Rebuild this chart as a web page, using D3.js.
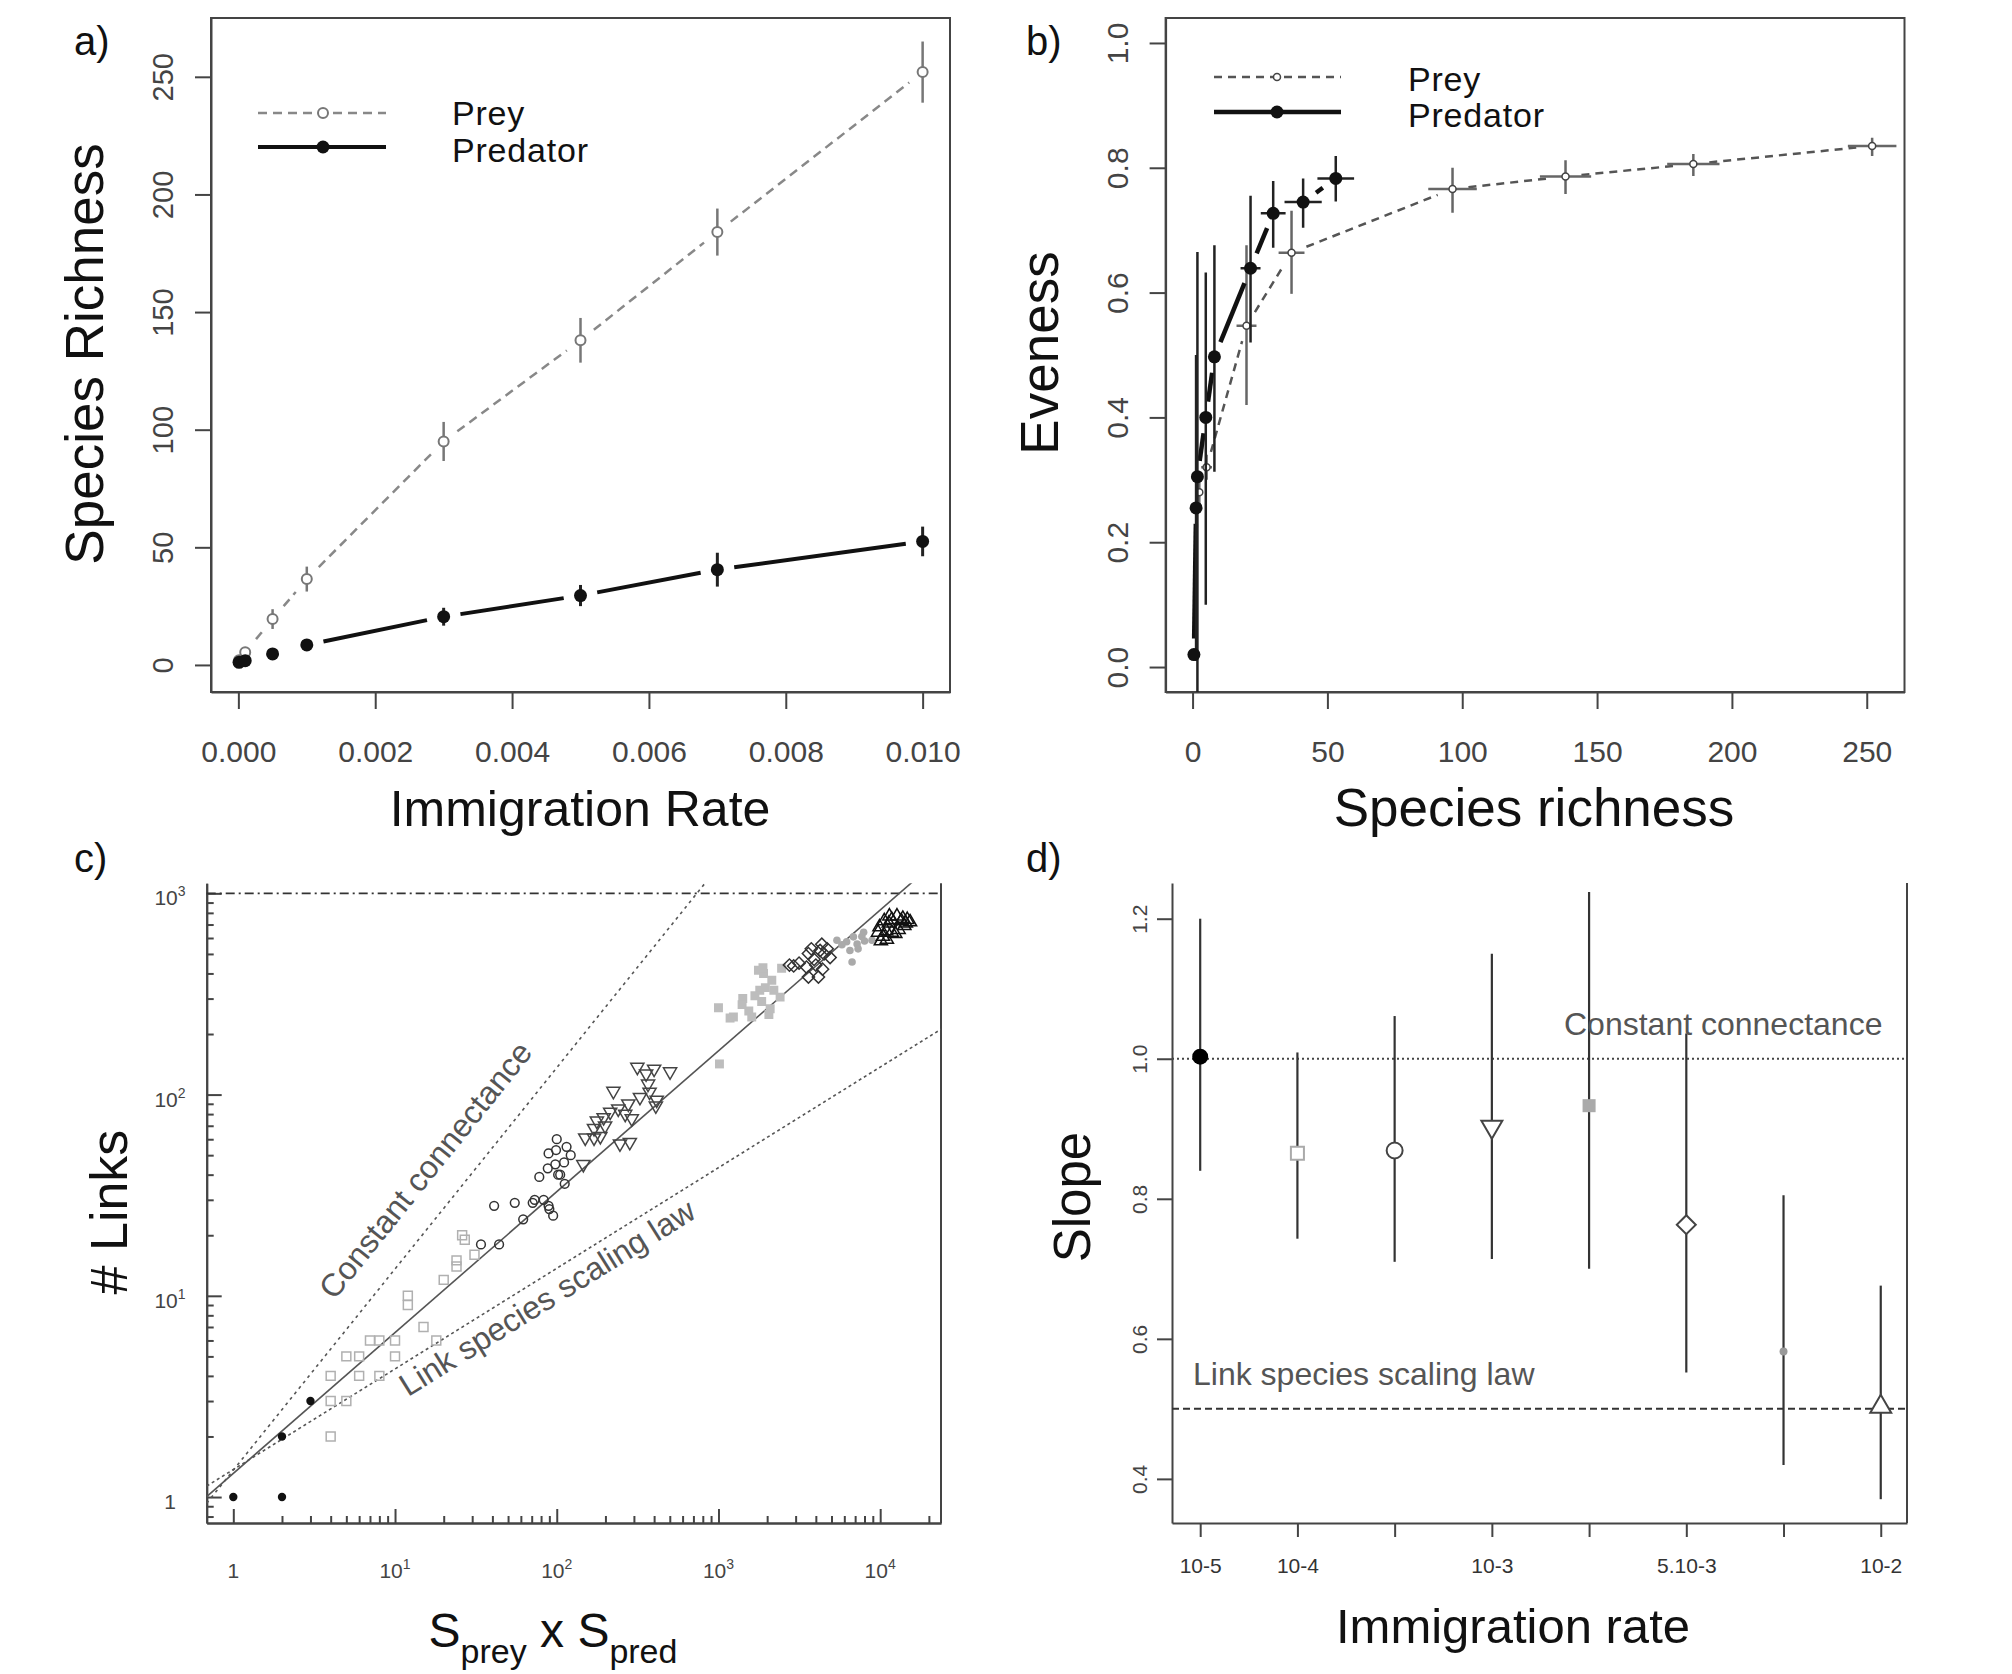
<!DOCTYPE html>
<html>
<head>
<meta charset="utf-8">
<script src="https://cdn.jsdelivr.net/npm/d3@7"></script>
<style>
  body { margin: 0; background: #fff; }
  svg text { font-family: "Liberation Sans", Arial, Helvetica, sans-serif; }
</style>
</head>
<body>
<svg id="fig" width="2012" height="1674"></svg>
<script>
// ---- a) species richness vs immigration rate ----
const immigrationRates = [0.00001, 0.0001, 0.0005, 0.001, 0.003, 0.005, 0.007, 0.01];
const preyRichness     = [2, 5.4, 19.5, 36.5, 95, 138, 184, 252];
const preyRichnessErr  = [1, 2, 4.2, 5.3, 8.3, 9.5, 10, 13];
const predRichness     = [1.1, 1.8, 4.7, 8.5, 20.5, 29.5, 40.5, 52.5];
const predRichnessErr  = [0.5, 0.8, 1, 1.5, 3.8, 4.5, 7.2, 6.3];
const rateTicksA = [0, 0.002, 0.004, 0.006, 0.008, 0.01];
const richTicksA = [0, 50, 100, 150, 200, 250];

// ---- b) evenness vs species richness ----
const preyS      = [2.5, 5.2, 20, 36.7, 96.4, 138.3, 185.7, 252];
const preySErr   = [1, 2, 3.7, 4.8, 9, 9.5, 9.7, 9];
const preyE      = [0.28, 0.32, 0.547, 0.664, 0.766, 0.786, 0.806, 0.835];
const preyELow   = [0.26, 0.30, 0.42, 0.598, 0.728, 0.758, 0.787, 0.819];
const preyEHigh  = [0.30, 0.34, 0.676, 0.731, 0.80, 0.812, 0.822, 0.848];
const predS      = [0.5, 1.3, 1.8, 4.9, 8.1, 21.5, 29.9, 41, 53.1];
const predSErr   = [0, 0.5, 1, 1.5, 2, 3.7, 4.6, 6.9, 6.8];
const predE      = [0.02, 0.255, 0.305, 0.40, 0.497, 0.639, 0.727, 0.745, 0.783];
const predELow   = [0.02, 0.01, -0.05, 0.10, 0.313, 0.52, 0.672, 0.704, 0.746];
const predEHigh  = [0.02, 0.50, 0.665, 0.632, 0.676, 0.755, 0.779, 0.783, 0.819];
const richTicksB = [0, 50, 100, 150, 200, 250];
const evenTicksB = [0, 0.2, 0.4, 0.6, 0.8, 1.0];

// ---- c) links vs Sprey x Spred, one array per immigration rate ----
const links1e5 = [[1,1],[2,1],[2,2],[3,3]];
const links1e4 = [[4,2],[4,3],[5,3],[4,4],[6,4],[8,4],[5,5],[6,5],[10,5],[7,6],[8,6],[10,6],[15,7],[18,6],
                  [12,9],[12,10],[20,12],[24,14],[24,15],[31,16],[26,20],[27,19]];
const links5e4 = [[34,18],[44,18],[41,28],[55,29],[62,24],[71,29],[73,30],[83,30],[89,28],[90,27],[95,25],
                  [78,39],[88,43],[89,51],[99,53],[100,60],[98,45],[102,40],[105,40],[112,36],[115,55],[122,50],[111,46]];
const links1e3 = [[315,137],[400,134],[502,130],[357,127],[367,113],[375,103],[224,104],[415,94],[327,97],
                  [277,90],[240,85],[214,82],[291,76],[410,88],[177,74],[199,70],[170,68],[150,61],[246,57],
                  [283,58],[146,45],[170,61],[195,77],[265,80],[186,62]];
const links3e3 = [[1014,142],[1000,270],[1237,243],[1180,240],[1413,300],[1606,243],[1540,260],[1767,415],
                  [1900,400],[1800,330],[1850,290],[1680,310],[2137,370],[2405,305],[2088,267],[2457,424],
                  [2200,330],[1950,340],[1400,280],[2050,250],[1884,427]];
const links5e3 = [[2746,440],[3600,502],[4355,559],[3900,470],[3500,430],[4000,440],[4500,500],[4900,480],
                  [3600,384],[4150,384],[4250,520],[4700,530],[3750,530],[3150,450],[4400,420],[2917,436]];
const links7e3 = [[5400,585],[6830,608],[6500,520],[7200,560],[7700,610],[8000,580],[6200,575],[6700,456],
                  [7300,530],[7900,640],[8900,585],[5800,555]];
const links1e2 = [[9900,680],[10600,730],[11300,710],[11800,740],[12700,770],[13500,730],[14400,710],[15300,720],
                  [10400,610],[11000,590],[10100,580],[11800,640],[13000,660],[14100,690],[14700,740],[11400,770],
                  [12400,630],[10900,650],[9700,640],[13800,750]];
const fitLaws = { constant: [1.36, 1], fitted: [1.31, 0.70], linkSpecies: [1.37, 0.5] };
const maxLinks = 1000;

// ---- d) slope per immigration rate ----
const slopeLabels = ["10-5", "10-4", "", "10-3", "", "5.10-3", "", "10-2"];
const slopeValues = [1.003, 0.865, 0.869, 0.903, 0.933, 0.763, 0.582, 0.503];
const slopeLow    = [0.84, 0.743, 0.71, 0.714, 0.70, 0.552, 0.42, 0.371];
const slopeHigh   = [1.2, 1.009, 1.061, 1.15, 1.238, 1.036, 0.805, 0.676];
const slopeTicks  = [0.4, 0.6, 0.8, 1.0, 1.2];

const svg = d3.select("#fig");
const AX = "#444";

function styleAxis(g, size) {
  g.attr("font-family", null).attr("font-size", null);
  g.select(".domain").attr("stroke", AX).attr("stroke-width", 2);
  g.selectAll(".tick line").attr("stroke", AX).attr("stroke-width", 2);
  g.selectAll(".tick text").attr("fill", AX).attr("font-size", size);
}

// R type="b": line segments that stop short of the points
function gapped(pts, gap) {
  const segs = [];
  for (let i = 0; i < pts.length - 1; i++) {
    const [x1, y1] = pts[i], [x2, y2] = pts[i + 1];
    const len = Math.hypot(x2 - x1, y2 - y1);
    if (len <= 2 * gap + 2) continue;
    const ux = (x2 - x1) / len, uy = (y2 - y1) / len;
    segs.push([x1 + ux * gap, y1 + uy * gap, x2 - ux * gap, y2 - uy * gap]);
  }
  return segs;
}

function label(txt, x, y, size, opts = {}) {
  const t = svg.append("text").attr("x", x).attr("y", y).attr("font-size", size)
    .attr("fill", opts.fill || "#111").attr("text-anchor", opts.anchor || "start").text(txt);
  if (opts.rotate) t.attr("transform", `rotate(${opts.rotate},${x},${y})`);
  return t;
}

// =================== a) ===================
const xA = d3.scaleLinear().domain([-0.0004, 0.0104]).range([211, 950]);
const yA = d3.scaleLinear().domain([-11.5, 275]).range([692, 18]);
const ga = svg.append("g");

ga.append("g").attr("transform", `translate(0,${yA.range()[0]})`)
  .call(d3.axisBottom(xA).tickValues(rateTicksA).tickFormat(d3.format(".3f")).tickSize(17).tickSizeOuter(0))
  .call(styleAxis, 30)
  .call(g => g.selectAll(".tick text").attr("y", 59).attr("dy", "0.35em"));

ga.append("g").attr("transform", `translate(${xA.range()[0]},0)`)
  .call(d3.axisLeft(yA).tickValues(richTicksA).tickSize(16).tickSizeOuter(0))
  .call(styleAxis, 29)
  .call(g => g.selectAll(".tick text").attr("x", 0).attr("dy", null).attr("y", -38)
    .attr("transform", "rotate(-90)").attr("text-anchor", "middle"));

ga.append("rect").attr("x", xA.range()[0]).attr("y", yA.range()[1])
  .attr("width", xA.range()[1] - xA.range()[0]).attr("height", yA.range()[0] - yA.range()[1])
  .attr("fill", "none").attr("stroke", AX).attr("stroke-width", 2);

const rowsA = immigrationRates.map((r, i) => ({
  r, prey: preyRichness[i], preyErr: preyRichnessErr[i], pred: predRichness[i], predErr: predRichnessErr[i]
}));

// prey
ga.selectAll(".preyseg").data(gapped(rowsA.map(d => [xA(d.r), yA(d.prey)]), 17)).join("line")
  .attr("x1", d => d[0]).attr("y1", d => d[1]).attr("x2", d => d[2]).attr("y2", d => d[3])
  .attr("stroke", "#888").attr("stroke-width", 2.5).attr("stroke-dasharray", "9,6");
ga.selectAll(".preyerr").data(rowsA).join("line")
  .attr("x1", d => xA(d.r)).attr("x2", d => xA(d.r))
  .attr("y1", d => yA(d.prey - d.preyErr)).attr("y2", d => yA(d.prey + d.preyErr))
  .attr("stroke", "#777").attr("stroke-width", 2.5);
ga.selectAll(".preypt").data(rowsA).join("circle")
  .attr("cx", d => xA(d.r)).attr("cy", d => yA(d.prey)).attr("r", 5)
  .attr("fill", "#fff").attr("stroke", "#777").attr("stroke-width", 2);

// predator
ga.selectAll(".predseg").data(gapped(rowsA.map(d => [xA(d.r), yA(d.pred)]), 17)).join("line")
  .attr("x1", d => d[0]).attr("y1", d => d[1]).attr("x2", d => d[2]).attr("y2", d => d[3])
  .attr("stroke", "#111").attr("stroke-width", 4);
ga.selectAll(".prederr").data(rowsA).join("line")
  .attr("x1", d => xA(d.r)).attr("x2", d => xA(d.r))
  .attr("y1", d => yA(d.pred - d.predErr)).attr("y2", d => yA(d.pred + d.predErr))
  .attr("stroke", "#222").attr("stroke-width", 3);
ga.selectAll(".predpt").data(rowsA).join("circle")
  .attr("cx", d => xA(d.r)).attr("cy", d => yA(d.pred)).attr("r", 6.5).attr("fill", "#111");

// legend a
ga.append("line").attr("x1", 258).attr("x2", 386).attr("y1", 113).attr("y2", 113)
  .attr("stroke", "#888").attr("stroke-width", 2.5).attr("stroke-dasharray", "9,6");
ga.append("circle").attr("cx", 323).attr("cy", 113).attr("r", 5).attr("fill", "#fff").attr("stroke", "#777").attr("stroke-width", 2);
ga.append("line").attr("x1", 258).attr("x2", 386).attr("y1", 147).attr("y2", 147).attr("stroke", "#111").attr("stroke-width", 4);
ga.append("circle").attr("cx", 323).attr("cy", 147).attr("r", 6.5).attr("fill", "#111");
label("Prey", 452, 125, 34).attr("letter-spacing", 0.8);
label("Predator", 452, 162, 34).attr("letter-spacing", 0.8);

label("a)", 74, 55, 40);
label("Immigration Rate", 580, 826, 50, { anchor: "middle" });
label("Species Richness", 103, 354, 53, { anchor: "middle", rotate: -90 });

// =================== b) ===================
const xB = d3.scaleLinear().domain([-10, 264]).range([1165.6, 1904.5]);
const yB = d3.scaleLinear().domain([-0.04, 1.04]).range([692, 18]);
const gb = svg.append("g");

gb.append("g").attr("transform", `translate(0,${yB.range()[0]})`)
  .call(d3.axisBottom(xB).tickValues(richTicksB).tickSize(17).tickSizeOuter(0))
  .call(styleAxis, 30)
  .call(g => g.selectAll(".tick text").attr("y", 59).attr("dy", "0.35em"));

gb.append("g").attr("transform", `translate(${xB.range()[0]},0)`)
  .call(d3.axisLeft(yB).tickValues(evenTicksB).tickFormat(d3.format(".1f")).tickSize(16).tickSizeOuter(0))
  .call(styleAxis, 30)
  .call(g => g.selectAll(".tick text").attr("x", 0).attr("dy", null).attr("y", -38)
    .attr("transform", "rotate(-90)").attr("text-anchor", "middle"));

gb.append("rect").attr("x", xB.range()[0]).attr("y", yB.range()[1])
  .attr("width", xB.range()[1] - xB.range()[0]).attr("height", yB.range()[0] - yB.range()[1])
  .attr("fill", "none").attr("stroke", AX).attr("stroke-width", 2);

gb.append("clipPath").attr("id", "clipB").append("rect")
  .attr("x", xB.range()[0]).attr("y", yB.range()[1])
  .attr("width", xB.range()[1] - xB.range()[0]).attr("height", yB.range()[0] - yB.range()[1]);
const pb = gb.append("g").attr("clip-path", "url(#clipB)");

const preyRowsB = preyS.map((s, i) => ({ s, se: preySErr[i], e: preyE[i], lo: preyELow[i], hi: preyEHigh[i] }));
const predRowsB = predS.map((s, i) => ({ s, se: predSErr[i], e: predE[i], lo: predELow[i], hi: predEHigh[i] }));

function drawCrosses(g, rows, color, width) {
  g.selectAll(null).data(rows).join("line")
    .attr("x1", d => xB(d.s)).attr("x2", d => xB(d.s)).attr("y1", d => yB(d.lo)).attr("y2", d => yB(d.hi))
    .attr("stroke", color).attr("stroke-width", width);
  g.selectAll(null).data(rows).join("line")
    .attr("x1", d => xB(d.s - d.se)).attr("x2", d => xB(d.s + d.se)).attr("y1", d => yB(d.e)).attr("y2", d => yB(d.e))
    .attr("stroke", color).attr("stroke-width", width);
}

pb.selectAll(".preysegB").data(gapped(preyRowsB.map(d => [xB(d.s), yB(d.e)]), 16)).join("line")
  .attr("x1", d => d[0]).attr("y1", d => d[1]).attr("x2", d => d[2]).attr("y2", d => d[3])
  .attr("stroke", "#555").attr("stroke-width", 2.5).attr("stroke-dasharray", "8,6");
drawCrosses(pb, preyRowsB, "#666", 2.5);
pb.selectAll(".preyptB").data(preyRowsB).join("circle")
  .attr("cx", d => xB(d.s)).attr("cy", d => yB(d.e)).attr("r", 3.5)
  .attr("fill", "#fff").attr("stroke", "#444").attr("stroke-width", 1.5);

pb.selectAll(".predsegB").data(gapped(predRowsB.map(d => [xB(d.s), yB(d.e)]), 16)).join("line")
  .attr("x1", d => d[0]).attr("y1", d => d[1]).attr("x2", d => d[2]).attr("y2", d => d[3])
  .attr("stroke", "#111").attr("stroke-width", 4.5);
drawCrosses(pb, predRowsB, "#222", 2.5);
pb.selectAll(".predptB").data(predRowsB).join("circle")
  .attr("cx", d => xB(d.s)).attr("cy", d => yB(d.e)).attr("r", 6.5).attr("fill", "#111");

// legend b
gb.append("line").attr("x1", 1214).attr("x2", 1341).attr("y1", 77).attr("y2", 77)
  .attr("stroke", "#555").attr("stroke-width", 2.5).attr("stroke-dasharray", "8,6");
gb.append("circle").attr("cx", 1277).attr("cy", 77).attr("r", 3.5).attr("fill", "#fff").attr("stroke", "#444").attr("stroke-width", 1.5);
gb.append("line").attr("x1", 1214).attr("x2", 1341).attr("y1", 112).attr("y2", 112).attr("stroke", "#111").attr("stroke-width", 4.5);
gb.append("circle").attr("cx", 1277).attr("cy", 112).attr("r", 6.5).attr("fill", "#111");
label("Prey", 1408, 91, 34).attr("letter-spacing", 0.8);
label("Predator", 1408, 127, 34).attr("letter-spacing", 0.8);

label("b)", 1026, 55, 40);
label("Species richness", 1534, 826, 53, { anchor: "middle" });
label("Eveness", 1058, 353, 53, { anchor: "middle", rotate: -90 });

// =================== c) ===================
const xC = d3.scaleLog().domain([Math.pow(10, -0.1645), Math.pow(10, 4.376)]).range([206.7, 941]);
const yC = d3.scaleLog().domain([Math.pow(10, -0.129), Math.pow(10, 3.05)]).range([1523, 883.3]);
const gc = svg.append("g");
const cx0 = xC.range()[0], cx1 = xC.range()[1], cyB = yC.range()[0], cyT = yC.range()[1];

gc.append("clipPath").attr("id", "clipC").append("rect")
  .attr("x", cx0).attr("y", cyT).attr("width", cx1 - cx0).attr("height", cyB - cyT);

const majorX = [1, 10, 100, 1000, 10000];
const majorY = [1, 10, 100, 1000];
const minorX = xC.ticks().filter(v => v >= 1 && !majorX.includes(v));
const minorY = yC.ticks().filter(v => v >= 0.8 && !majorY.includes(v));

gc.append("g").attr("transform", `translate(0,${cyB})`)
  .call(d3.axisBottom(xC).tickValues(minorX).tickFormat("").tickSize(-7).tickSizeOuter(0))
  .call(styleAxis, 20);
gc.append("g").attr("transform", `translate(0,${cyB})`)
  .call(d3.axisBottom(xC).tickValues(majorX).tickFormat("").tickSize(-14).tickSizeOuter(0))
  .call(styleAxis, 20);
gc.append("g").attr("transform", `translate(${cx0},0)`)
  .call(d3.axisLeft(yC).tickValues(minorY).tickFormat("").tickSize(-7).tickSizeOuter(0))
  .call(styleAxis, 20);
gc.append("g").attr("transform", `translate(${cx0},0)`)
  .call(d3.axisLeft(yC).tickValues(majorY).tickFormat("").tickSize(-15).tickSizeOuter(0))
  .call(styleAxis, 20);
gc.append("line").attr("x1", cx1).attr("x2", cx1).attr("y1", cyT).attr("y2", cyB).attr("stroke", AX).attr("stroke-width", 2);

function powLabel(g, v, x, y, anchor) {
  const t = g.append("text").attr("x", x).attr("y", y).attr("font-size", 21).attr("fill", AX)
    .attr("text-anchor", anchor);
  const e = Math.round(Math.log10(v));
  if (e === 0) { t.text("1"); return; }
  t.append("tspan").text("10");
  t.append("tspan").attr("font-size", 14).attr("dy", -9).text(e);
}
majorX.forEach(v => powLabel(gc, v, xC(v), cyB + 55, "middle"));
majorY.forEach(v => powLabel(gc, v, 170, yC(v) + 12, "middle"));

// reference lines
const xs = xC.domain();
gc.append("line").attr("x1", cx0).attr("x2", cx1).attr("y1", yC(maxLinks)).attr("y2", yC(maxLinks))
  .attr("stroke", "#333").attr("stroke-width", 1.6).attr("stroke-dasharray", "9,4,2,4");
const pc = gc.append("g").attr("clip-path", "url(#clipC)");
const lawStyle = { constant: ["#555", "3,4"], fitted: ["#555", null], linkSpecies: ["#555", "3,3"] };
Object.entries(fitLaws).forEach(([k, [a, b]]) => {
  const ln = pc.append("line")
    .attr("x1", xC(xs[0])).attr("y1", yC(a * Math.pow(xs[0], b)))
    .attr("x2", xC(xs[1])).attr("y2", yC(a * Math.pow(xs[1], b)))
    .attr("stroke", lawStyle[k][0]).attr("stroke-width", 1.6);
  if (lawStyle[k][1]) ln.attr("stroke-dasharray", lawStyle[k][1]);
});

// annotations along the dotted lines
function lawAngle(b) {
  const p1 = [xC(1), yC(1)], p2 = [xC(100), yC(Math.pow(100, b))];
  return Math.atan2(p2[1] - p1[1], p2[0] - p1[0]) * 180 / Math.PI;
}
gc.append("text").attr("font-size", 32).attr("fill", "#555").attr("text-anchor", "middle")
  .attr("transform", `translate(434,1177) rotate(${lawAngle(1)})`).text("Constant connectance");
gc.append("text").attr("font-size", 32).attr("fill", "#555").attr("text-anchor", "middle")
  .attr("transform", `translate(553,1307) rotate(${lawAngle(0.5)})`).text("Link species scaling law");

// points
const sym = (type, size, rot) => d => `translate(${xC(d[0])},${yC(d[1])}) rotate(${rot || 0})`;
const groupsC = [
  { data: links1e4, type: d3.symbolSquare, size: 80, rot: 0, fill: "none", stroke: "#b0b0b0" },
  { data: links5e4, type: d3.symbolCircle, size: 60, rot: 0, fill: "none", stroke: "#333" },
  { data: links1e3, type: d3.symbolTriangle, size: 75, rot: 180, fill: "none", stroke: "#444" },
  { data: links3e3, type: d3.symbolSquare, size: 80, rot: 0, fill: "#bdbdbd", stroke: "none" },
  { data: links5e3, type: d3.symbolSquare, size: 75, rot: 45, fill: "none", stroke: "#333" },
  { data: links7e3, type: d3.symbolCircle, size: 45, rot: 0, fill: "#aaa", stroke: "none" },
  { data: links1e2, type: d3.symbolTriangle, size: 75, rot: 0, fill: "none", stroke: "#111" },
  { data: links1e5, type: d3.symbolCircle, size: 55, rot: 0, fill: "#111", stroke: "none" }
];
groupsC.forEach(gr => {
  pc.append("g").selectAll("path").data(gr.data).join("path")
    .attr("d", d3.symbol(gr.type, gr.size))
    .attr("transform", sym(gr.type, gr.size, gr.rot))
    .attr("fill", gr.fill).attr("stroke", gr.stroke).attr("stroke-width", 1.5);
});

label("c)", 74, 872, 40);
label("# Links", 127, 1212, 52, { anchor: "middle", rotate: -90 });
const xt = svg.append("text").attr("x", 553).attr("y", 1647).attr("font-size", 48).attr("fill", "#111").attr("text-anchor", "middle");
xt.append("tspan").text("S");
xt.append("tspan").attr("font-size", 34).attr("dy", 16).text("prey");
xt.append("tspan").attr("dy", -16).text(" x S");
xt.append("tspan").attr("font-size", 34).attr("dy", 16).text("pred");

// =================== d) ===================
const xD = d3.scaleLinear().domain([0.71, 8.27]).range([1172, 1907]);
const yD = d3.scaleLinear().domain([0.337, 1.251]).range([1523, 883]);
const gd = svg.append("g");

gd.append("g").attr("transform", `translate(0,${yD.range()[0]})`)
  .call(d3.axisBottom(xD).tickValues(d3.range(1, 9)).tickFormat((d, i) => slopeLabels[i]).tickSize(14).tickSizeOuter(0))
  .call(styleAxis, 21)
  .call(g => g.selectAll(".tick text").attr("y", 43).attr("dy", "0.35em").attr("fill", "#333"));
gd.append("g").attr("transform", `translate(${xD.range()[0]},0)`)
  .call(d3.axisLeft(yD).tickValues(slopeTicks).tickFormat(d3.format(".1f")).tickSize(15).tickSizeOuter(0))
  .call(styleAxis, 21)
  .call(g => g.selectAll(".tick text").attr("x", 0).attr("dy", null).attr("y", -25)
    .attr("transform", "rotate(-90)").attr("text-anchor", "middle"));
gd.append("line").attr("x1", xD.range()[1]).attr("x2", xD.range()[1]).attr("y1", yD.range()[1]).attr("y2", yD.range()[0])
  .attr("stroke", AX).attr("stroke-width", 2);

gd.append("line").attr("x1", xD.range()[0]).attr("x2", xD.range()[1]).attr("y1", yD(1)).attr("y2", yD(1))
  .attr("stroke", "#444").attr("stroke-width", 2).attr("stroke-dasharray", "2,3");
gd.append("line").attr("x1", xD.range()[0]).attr("x2", xD.range()[1]).attr("y1", yD(0.5)).attr("y2", yD(0.5))
  .attr("stroke", "#333").attr("stroke-width", 2).attr("stroke-dasharray", "7,4");

const rowsD = slopeValues.map((v, i) => ({ i: i + 1, v, lo: slopeLow[i], hi: slopeHigh[i] }));
gd.selectAll(".errD").data(rowsD).join("line")
  .attr("x1", d => xD(d.i)).attr("x2", d => xD(d.i)).attr("y1", d => yD(d.lo)).attr("y2", d => yD(d.hi))
  .attr("stroke", "#333").attr("stroke-width", 2.2);

label("Constant connectance", 1564, 1035, 32, { fill: "#555" });
label("Link species scaling law", 1193, 1385, 32, { fill: "#555" });

const markersD = [
  { type: d3.symbolCircle, size: 200, rot: 0, fill: "#000", stroke: "none" },
  { type: d3.symbolSquare, size: 170, rot: 0, fill: "#fff", stroke: "#aaa" },
  { type: d3.symbolCircle, size: 200, rot: 0, fill: "#fff", stroke: "#444" },
  { type: d3.symbolTriangle, size: 190, rot: 180, fill: "#fff", stroke: "#444" },
  { type: d3.symbolSquare, size: 170, rot: 0, fill: "#aaa", stroke: "none" },
  { type: d3.symbolSquare, size: 180, rot: 45, fill: "#fff", stroke: "#444" },
  { type: d3.symbolCircle, size: 50, rot: 0, fill: "#999", stroke: "none" },
  { type: d3.symbolTriangle, size: 190, rot: 0, fill: "#fff", stroke: "#444" }
];
gd.selectAll(".ptD").data(rowsD).join("path")
  .attr("d", (d, i) => d3.symbol(markersD[i].type, markersD[i].size)())
  .attr("transform", (d, i) => `translate(${xD(d.i)},${yD(d.v)}) rotate(${markersD[i].rot})`)
  .attr("fill", (d, i) => markersD[i].fill).attr("stroke", (d, i) => markersD[i].stroke).attr("stroke-width", 2);

label("d)", 1026, 872, 40);
label("Slope", 1090, 1197, 51, { anchor: "middle", rotate: -90 });
label("Immigration rate", 1513, 1643, 49, { anchor: "middle" });
</script>
</body>
</html>
